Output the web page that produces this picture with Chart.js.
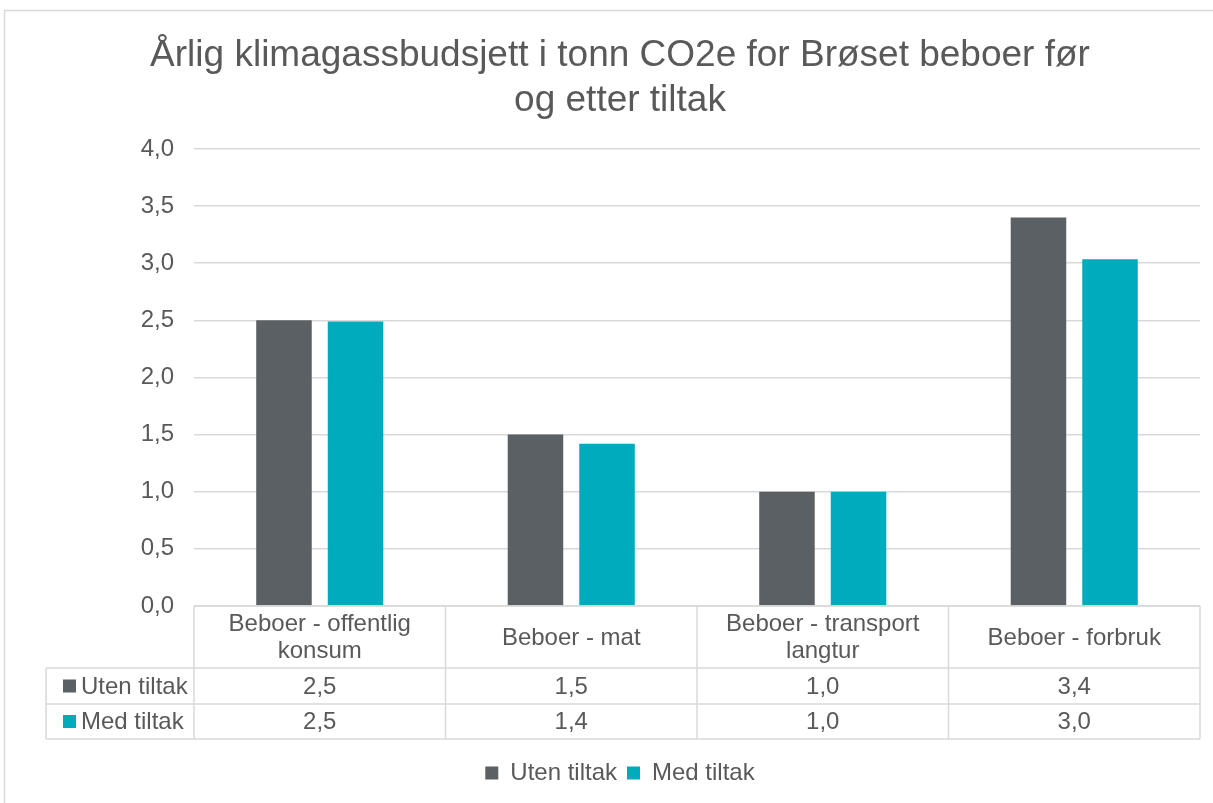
<!DOCTYPE html>
<html>
<head>
<meta charset="utf-8">
<script src="https://cdn.jsdelivr.net/npm/chart.js@4.4.1/dist/chart.umd.min.js"></script>
<style>
  html, body { margin: 0; padding: 0; background: #fff; }
  #wrap { width: 1213px; height: 803px; position: relative; }
</style>
</head>
<body>
<div id="wrap"><canvas id="klima"></canvas></div>
<script>
// Kategorier (flerlinjede etiketter som i tabellen)
const CATEGORIES = [
  ["Beboer - offentlig", "konsum"],
  ["Beboer - mat"],
  ["Beboer - transport", "langtur"],
  ["Beboer - forbruk"],
];
const SERIES_NAMES = ["Uten tiltak", "Med tiltak"];
const UTEN_TILTAK  = [2.5, 1.5, 1.0, 3.4];
const MED_TILTAK   = [2.49, 1.42, 1.0, 3.035];
const Y_TICKS      = [0, 0.5, 1, 1.5, 2, 2.5, 3, 3.5, 4];

const TXT   = "#595959";
const GRID  = "#d9d9d9";
const DARK  = "#5b6064";
const TEAL  = "#00abbd";
const FONT  = "'Liberation Sans', Arial, sans-serif";

const fmt = (v) => v.toFixed(1).replace(".", ",");

// Tabell under diagrammet + ytre ramme
const dataTablePlugin = {
  id: "dataTable",
  beforeDraw(chart) {
    const { ctx } = chart;
    ctx.save();
    ctx.strokeStyle = GRID;
    ctx.lineWidth = 1.5;
    ctx.strokeRect(4.5, 10.5, 1230, 820);
    ctx.restore();
  },
  afterDraw(chart) {
    const { ctx, chartArea, scales: { x } } = chart;
    const top = chartArea.bottom;
    const rowH = [62, 36, 35];
    const y1 = top + rowH[0], y2 = y1 + rowH[1], y3 = y2 + rowH[2];
    const keyLeft = 46;
    const half = (x.getPixelForTick(1) - x.getPixelForTick(0)) / 2;
    const edges = CATEGORIES.map((_, i) => x.getPixelForTick(i) - half);
    edges.push(chartArea.right);

    ctx.save();
    ctx.strokeStyle = GRID;
    ctx.lineWidth = 1.5;
    ctx.beginPath();
    // horisontale linjer
    ctx.moveTo(chartArea.left, top); ctx.lineTo(chartArea.right, top);
    [y1, y2, y3].forEach((yy) => { ctx.moveTo(keyLeft, yy); ctx.lineTo(chartArea.right, yy); });
    // vertikale linjer
    edges.forEach((ex) => { ctx.moveTo(ex, top); ctx.lineTo(ex, y3); });
    ctx.moveTo(keyLeft, y1); ctx.lineTo(keyLeft, y3);
    ctx.stroke();

    ctx.fillStyle = TXT;
    ctx.font = `24px ${FONT}`;
    ctx.textAlign = "center";
    ctx.textBaseline = "middle";
    CATEGORIES.forEach((lines, i) => {
      const cx = x.getPixelForTick(i);
      const mid = top + rowH[0] / 2 + 1;
      const lh = 27;
      lines.forEach((ln, j) => {
        ctx.fillText(ln, cx, mid + (j - (lines.length - 1) / 2) * lh);
      });
      ctx.fillText(fmt(UTEN_TILTAK[i]), cx, y1 + rowH[1] / 2 + 1);
      ctx.fillText(fmt(MED_TILTAK[i]), cx, y2 + rowH[2] / 2 + 1);
    });

    ctx.textAlign = "left";
    [[DARK, SERIES_NAMES[0], y1 + rowH[1] / 2], [TEAL, SERIES_NAMES[1], y2 + rowH[2] / 2]].forEach(([c, name, cy]) => {
      ctx.fillStyle = c;
      ctx.fillRect(63, cy - 6.5, 13, 13);
      ctx.fillStyle = TXT;
      ctx.fillText(name, 81, cy + 1);
    });
    ctx.restore();
  },
};

new Chart(document.getElementById("klima"), {
  type: "bar",
  data: {
    labels: CATEGORIES,
    datasets: [
      { label: SERIES_NAMES[0], data: UTEN_TILTAK, backgroundColor: DARK, borderWidth: 0 },
      { label: SERIES_NAMES[1], data: MED_TILTAK, backgroundColor: TEAL, borderWidth: 0 },
    ],
  },
  options: {
    responsive: true,
    maintainAspectRatio: false,
    animation: false,
    datasets: { bar: { categoryPercentage: 0.569, barPercentage: 0.776 } },
    layout: { padding: { top: 10, right: 13, bottom: 8, left: 40 } },
    plugins: {
      title: {
        display: true,
        text: ["Årlig klimagassbudsjett i tonn CO2e for Brøset beboer før", "og etter tiltak"],
        color: TXT,
        font: { family: FONT, size: 37, weight: "normal", lineHeight: 1.216 },
        padding: { top: 23, bottom: 26 },
      },
      legend: {
        position: "bottom",
        labels: {
          color: TXT,
          font: { family: FONT, size: 24 },
          boxWidth: 13,
          boxHeight: 13,
          padding: 10,
        },
      },
      tooltip: { enabled: false },
    },
    scales: {
      x: {
        grid: { display: false, drawTicks: false },
        border: { display: false },
        ticks: { display: false },
        afterFit: (s) => { s.height = 145; },
      },
      y: {
        min: 0,
        max: 4,
        afterBuildTicks: (s) => { s.ticks = Y_TICKS.map((v) => ({ value: v })); },
        grid: { color: GRID, lineWidth: 1.5, drawTicks: false },
        border: { display: false },
        ticks: {
          color: TXT,
          font: { family: FONT, size: 24 },
          padding: 20,
          callback: (v) => fmt(v),
        },
        afterFit: (s) => { s.width = 154; },
      },
    },
  },
  plugins: [dataTablePlugin],
});
</script>
</body>
</html>
